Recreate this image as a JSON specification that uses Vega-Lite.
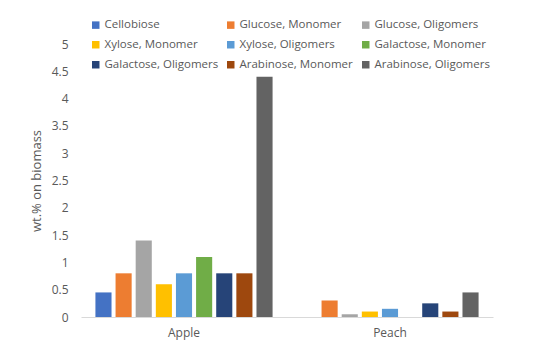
{
  "$schema": "https://vega.github.io/schema/vega-lite/v6.json",
  "autosize": "none",
  "width": 412,
  "height": 273,
  "padding": {"left": 81, "top": 44, "right": 57, "bottom": 34},
  "background": "white",
  "config": {
    "view": {"stroke": null},
    "font": "Open Sans",
    "axis": {"labelFont": "Open Sans", "titleFont": "Open Sans", "labelColor": "#595959", "titleColor": "#595959"},
    "legend": {"labelFont": "Open Sans", "labelColor": "#595959"}
  },
  "data": {
    "values": [
      {"fruit": "Apple", "sugar": "Cellobiose", "value": 0.45},
      {"fruit": "Apple", "sugar": "Glucose, Monomer", "value": 0.8},
      {"fruit": "Apple", "sugar": "Glucose, Oligomers", "value": 1.4},
      {"fruit": "Apple", "sugar": "Xylose, Monomer", "value": 0.6},
      {"fruit": "Apple", "sugar": "Xylose, Oligomers", "value": 0.8},
      {"fruit": "Apple", "sugar": "Galactose, Monomer", "value": 1.1},
      {"fruit": "Apple", "sugar": "Galactose, Oligomers", "value": 0.8},
      {"fruit": "Apple", "sugar": "Arabinose, Monomer", "value": 0.8},
      {"fruit": "Apple", "sugar": "Arabinose, Oligomers", "value": 4.4},
      {"fruit": "Peach", "sugar": "Cellobiose", "value": 0},
      {"fruit": "Peach", "sugar": "Glucose, Monomer", "value": 0.3},
      {"fruit": "Peach", "sugar": "Glucose, Oligomers", "value": 0.05},
      {"fruit": "Peach", "sugar": "Xylose, Monomer", "value": 0.1},
      {"fruit": "Peach", "sugar": "Xylose, Oligomers", "value": 0.15},
      {"fruit": "Peach", "sugar": "Galactose, Monomer", "value": 0},
      {"fruit": "Peach", "sugar": "Galactose, Oligomers", "value": 0.25},
      {"fruit": "Peach", "sugar": "Arabinose, Monomer", "value": 0.1},
      {"fruit": "Peach", "sugar": "Arabinose, Oligomers", "value": 0.45}
    ]
  },
  "mark": {"type": "bar"},
  "encoding": {
    "x": {
      "field": "fruit", "type": "nominal",
      "scale": {"paddingInner": 0.14, "paddingOuter": 0.07},
      "axis": {"title": null, "labelAngle": 0, "labelFontSize": 12, "labelPadding": 10, "ticks": false, "domainColor": "#D9D9D9", "domainWidth": 1}
    },
    "xOffset": {
      "field": "sugar", "type": "nominal",
      "sort": ["Cellobiose", "Glucose, Monomer", "Glucose, Oligomers", "Xylose, Monomer", "Xylose, Oligomers", "Galactose, Monomer", "Galactose, Oligomers", "Arabinose, Monomer", "Arabinose, Oligomers"],
      "scale": {"paddingInner": 0.2, "paddingOuter": 0}
    },
    "y": {
      "field": "value", "type": "quantitative",
      "scale": {"domain": [0, 5], "nice": false},
      "axis": {"title": "wt.% on biomass", "titleFontSize": 13, "titleFontWeight": "normal", "titlePadding": 8, "labelFontSize": 12, "labelPadding": 13, "ticks": false, "domain": false, "grid": false, "format": "~g", "values": [0, 0.5, 1, 1.5, 2, 2.5, 3, 3.5, 4, 4.5, 5]}
    },
    "color": {
      "field": "sugar", "type": "nominal",
      "sort": ["Cellobiose", "Glucose, Monomer", "Glucose, Oligomers", "Xylose, Monomer", "Xylose, Oligomers", "Galactose, Monomer", "Galactose, Oligomers", "Arabinose, Monomer", "Arabinose, Oligomers"],
      "scale": {
        "domain": ["Cellobiose", "Glucose, Monomer", "Glucose, Oligomers", "Xylose, Monomer", "Xylose, Oligomers", "Galactose, Monomer", "Galactose, Oligomers", "Arabinose, Monomer", "Arabinose, Oligomers"],
        "range": ["#4472C4", "#ED7D31", "#A5A5A5", "#FFC000", "#5B9BD5", "#70AD47", "#264478", "#9E480E", "#636363"]
      },
      "legend": {
        "title": null, "orient": "none", "legendX": 9, "legendY": -25, "columns": 3,
        "direction": "horizontal", "gridAlign": "all",
        "symbolType": "square", "symbolSize": 56, "symbolStrokeWidth": 0,
        "labelFontSize": 11.5, "labelOffset": 3, "columnPadding": 5, "rowPadding": 7
      }
    }
  }
}
